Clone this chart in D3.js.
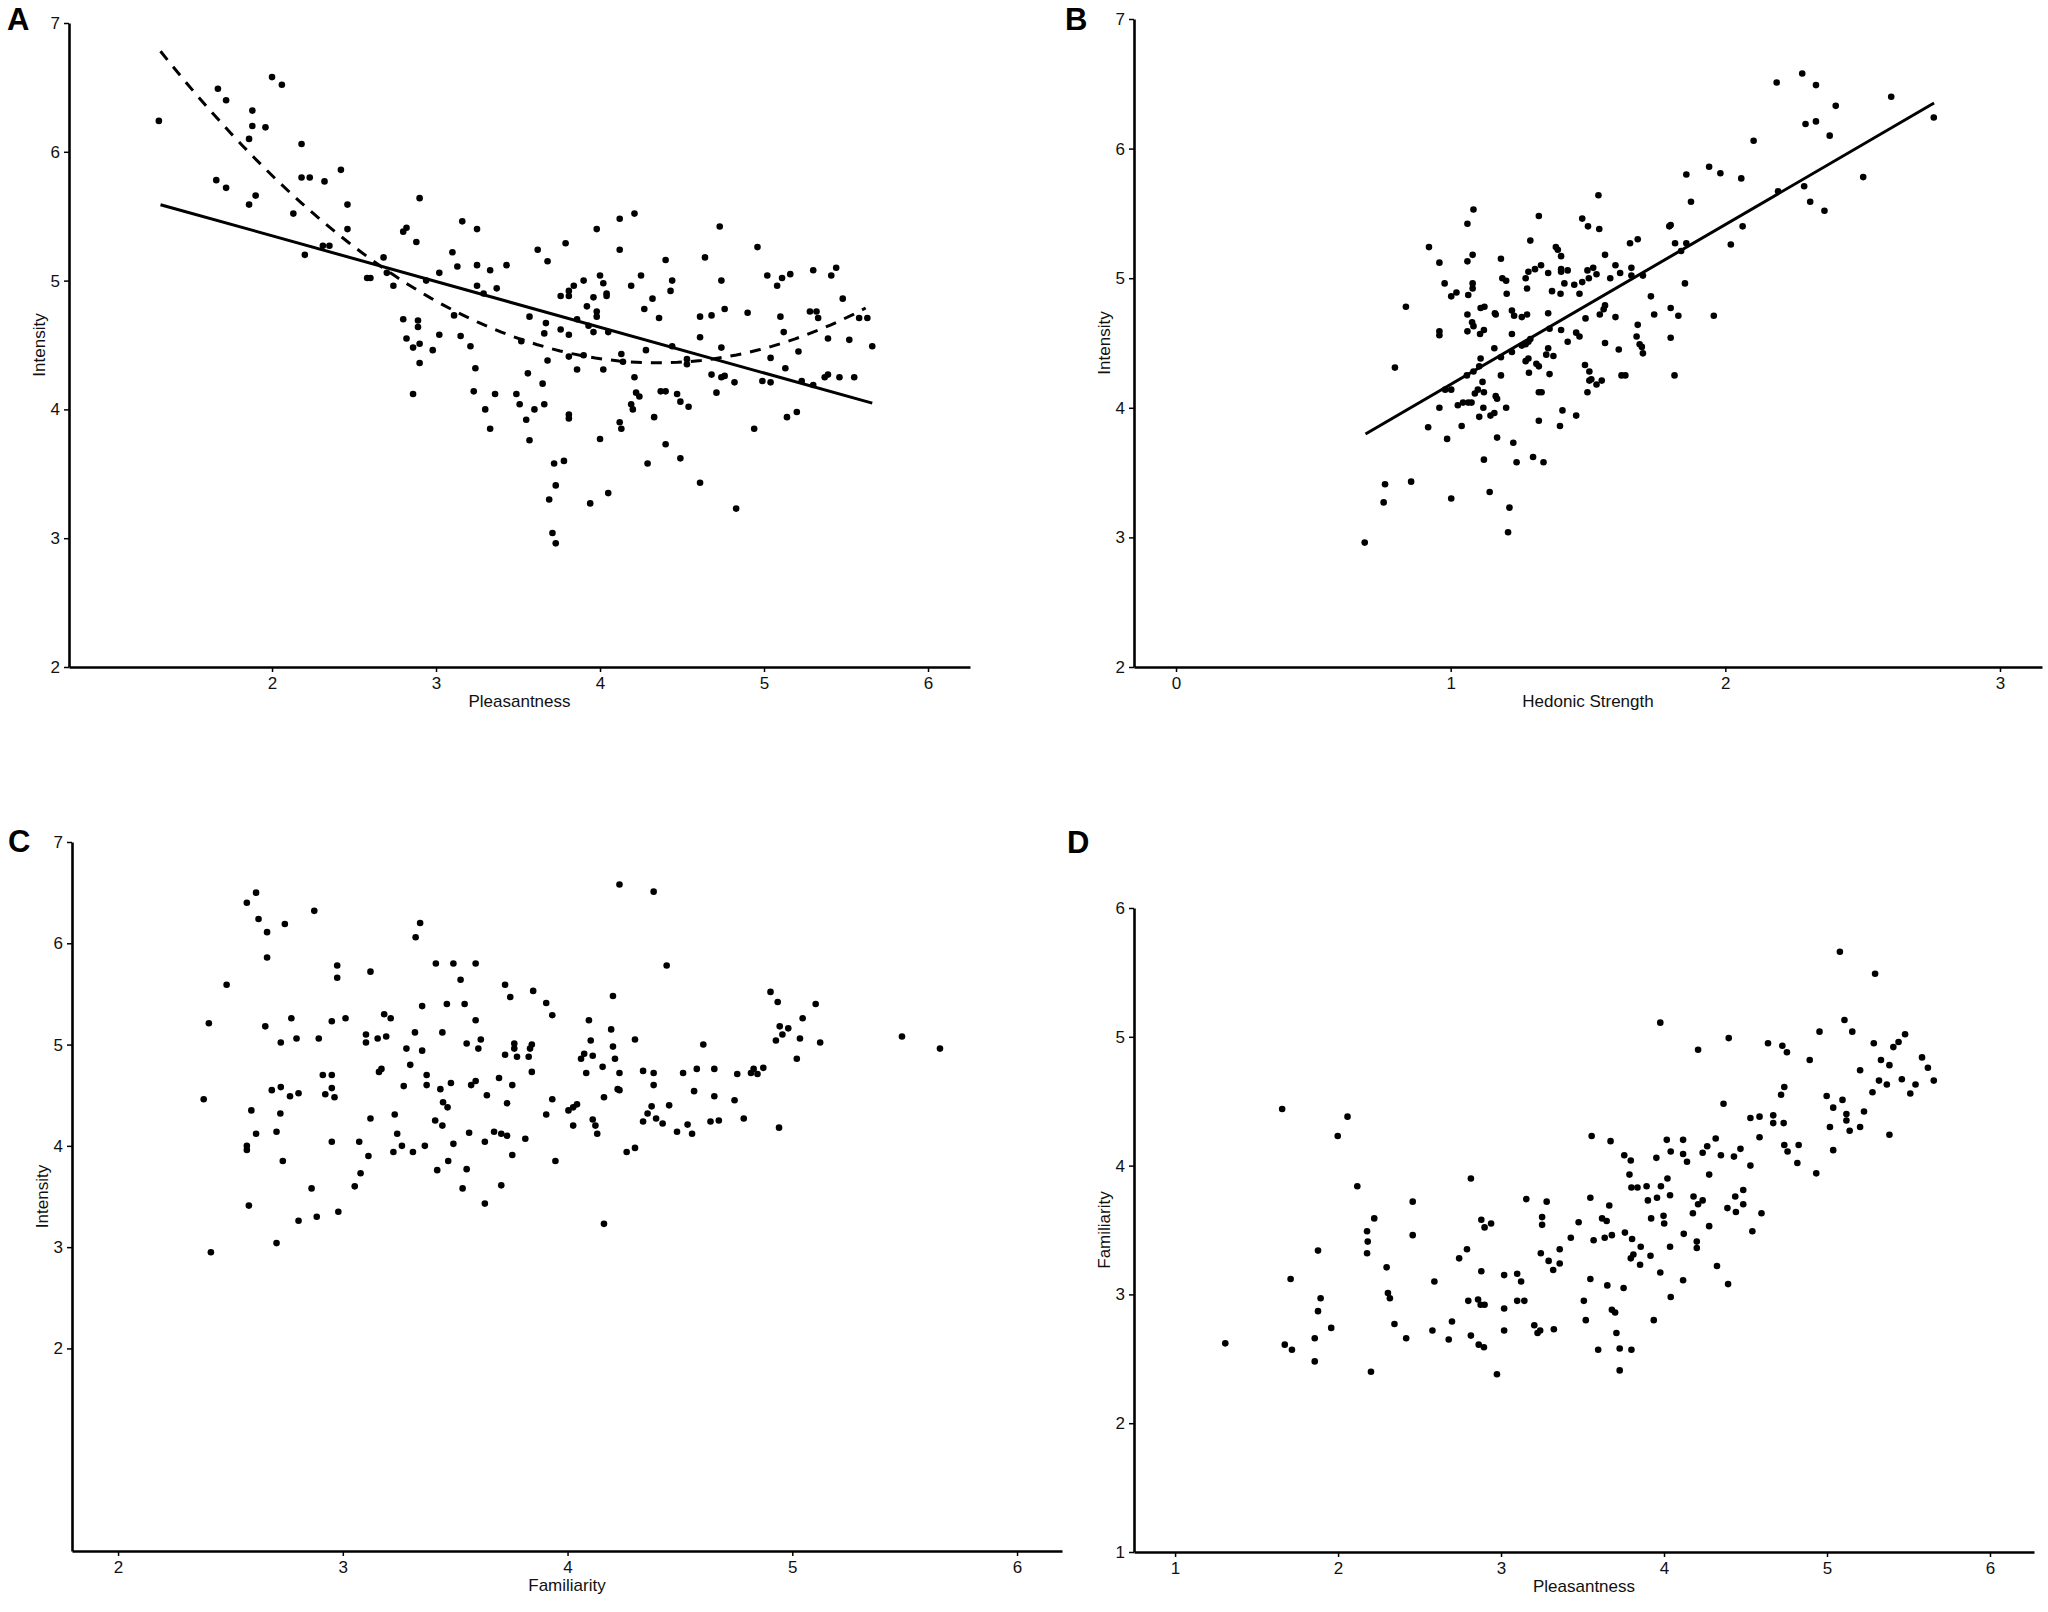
<!DOCTYPE html>
<html>
<head>
<meta charset="utf-8">
<title>Intensity, pleasantness and familiarity</title>
<script src="https://cdn.jsdelivr.net/npm/d3@7"></script>
<style>
	body { margin: 0; background: #fff; }
	svg { display: block; }
	.tick text { font-family: "Liberation Sans Narrow", "Liberation Sans", sans-serif; font-size: 17px; fill: #111; }
	.axis-title { font-family: "Liberation Sans Narrow", "Liberation Sans", sans-serif; font-size: 17px; fill: #111; }
	.panel-label { font-family: "Liberation Sans", Arial, sans-serif; font-weight: bold; font-size: 31px; }
</style>
</head>
<body>
<script>
// A: pleasantness vs intensity
var pointsA = [
	[1.31,6.24],[1.67,6.49],[1.72,6.40],[1.66,5.78],[1.72,5.72],[1.88,6.32],[1.88,6.20],[1.86,6.10],
	[1.96,6.19],[1.86,5.59],[1.90,5.66],[2.00,6.58],[2.06,6.52],[2.18,6.06],[2.18,5.80],[2.23,5.80],
	[2.32,5.77],[2.42,5.86],[2.13,5.52],[2.46,5.59],[2.46,5.40],[2.20,5.20],[2.31,5.27],[2.35,5.27],
	[2.58,5.02],[2.60,5.02],[2.68,5.18],[2.70,5.06],[2.74,4.96],[2.90,5.64],[2.80,5.38],[2.82,5.41],
	[2.88,5.30],[2.94,5.00],[3.02,5.06],[2.80,4.70],[2.89,4.69],[2.89,4.64],[2.82,4.55],[2.90,4.51],
	[2.86,4.48],[2.90,4.36],[2.86,4.12],[2.98,4.46],[3.02,4.58],[3.10,5.22],[3.13,5.11],[3.16,5.46],
	[3.25,5.40],[3.25,5.12],[3.25,4.96],[3.29,4.90],[3.33,5.08],[3.37,4.94],[3.43,5.12],[3.11,4.73],
	[3.15,4.57],[3.21,4.49],[3.24,4.32],[3.23,4.14],[3.30,4.00],[3.33,3.85],[3.36,4.12],[3.49,4.12],
	[3.51,4.04],[3.52,4.53],[3.57,4.72],[3.56,4.28],[3.55,3.92],[3.57,3.76],[3.62,5.24],[3.68,5.15],
	[3.67,4.67],[3.66,4.59],[3.65,4.20],[3.68,4.38],[3.66,4.04],[3.60,4.00],[3.72,3.58],[3.78,3.60],
	[3.73,3.41],[3.69,3.30],[3.71,3.04],[3.73,2.96],[3.79,5.29],[3.76,4.88],[3.81,4.88],[3.81,4.92],
	[3.84,4.96],[3.90,5.00],[3.76,4.62],[3.81,4.58],[3.81,4.41],[3.86,4.70],[3.86,4.31],[3.81,3.96],
	[3.81,3.93],[3.92,4.80],[3.96,4.87],[3.98,4.76],[3.98,4.72],[3.93,4.65],[3.96,4.60],[3.90,4.42],
	[3.98,5.40],[4.00,5.04],[4.02,4.98],[4.04,4.90],[4.04,4.88],[4.05,4.60],[4.02,4.31],[4.00,3.77],
	[3.94,3.27],[4.05,3.35],[4.12,5.48],[4.21,5.52],[4.12,5.24],[4.19,4.96],[4.25,5.04],[4.13,4.43],
	[4.14,4.37],[4.27,4.78],[4.32,4.86],[4.36,4.71],[4.28,4.46],[4.21,4.25],[4.22,4.13],[4.24,4.10],
	[4.19,4.04],[4.20,4.00],[4.12,3.90],[4.13,3.85],[4.33,3.94],[4.40,5.16],[4.44,5.00],[4.43,4.92],
	[4.44,4.49],[4.37,4.14],[4.40,4.14],[4.47,4.12],[4.49,4.06],[4.54,4.02],[4.53,4.39],[4.53,4.35],
	[4.40,3.73],[4.49,3.62],[4.29,3.58],[4.64,5.18],[4.73,5.42],[4.74,5.00],[4.61,4.72],[4.68,4.73],
	[4.76,4.78],[4.61,4.56],[4.74,4.48],[4.68,4.27],[4.74,4.25],[4.76,4.26],[4.71,4.13],[4.82,4.21],
	[4.61,3.43],[4.83,3.23],[4.90,4.75],[4.96,5.26],[5.02,5.04],[5.08,4.96],[5.11,5.02],[5.16,5.05],
	[5.10,4.72],[5.12,4.60],[5.04,4.40],[4.99,4.22],[5.04,4.21],[5.13,4.32],[5.21,4.45],[5.23,4.22],
	[4.94,3.85],[5.14,3.94],[5.20,3.98],[5.30,5.08],[5.44,5.10],[5.41,5.04],[5.28,4.76],[5.32,4.76],
	[5.33,4.71],[5.39,4.55],[5.48,4.86],[5.52,4.54],[5.58,4.71],[5.63,4.71],[5.66,4.49],[5.39,4.27],
	[5.37,4.25],[5.46,4.25],[5.55,4.25],[5.30,4.19]
];
var linearA = { intercept: 6.058, slope: -0.355, from: 1.32, to: 5.66 };
var quadraticA = { coef: [9.348, -2.293, 0.2636], from: 1.32, to: 5.62 };

// B: hedonic strength vs intensity
var pointsB = [
	[0.687,2.96],[0.756,3.27],[0.761,3.41],[0.797,4.31],[0.837,4.78],[0.856,3.43],[0.921,5.24],[0.959,5.12],
	[0.978,4.96],[1.002,4.86],[1.021,4.89],[0.959,4.59],[0.959,4.56],[0.918,3.85],[0.959,4.00],[0.987,3.76],
	[1.002,3.30],[0.980,4.14],[1.002,4.14],[1.026,4.02],[1.040,3.86],[1.045,4.04],[1.064,4.04],[1.076,4.04],
	[1.059,4.25],[1.083,4.28],[1.104,4.32],[1.109,4.38],[1.088,4.11],[1.099,4.14],[1.121,4.12],[1.116,4.20],
	[1.104,3.93],[1.145,3.94],[1.119,4.00],[1.159,3.96],[1.164,4.09],[1.169,4.07],[1.202,4.00],[1.169,3.77],
	[1.121,3.60],[1.142,3.35],[1.214,3.23],[1.209,3.04],[1.228,3.73],[1.240,3.58],[1.300,3.62],[1.338,3.58],
	[1.061,5.42],[1.083,5.53],[1.080,5.18],[1.061,5.13],[1.080,4.96],[1.080,4.92],[1.064,4.87],[1.061,4.72],
	[1.078,4.66],[1.083,4.63],[1.061,4.59],[1.121,4.60],[1.107,4.57],[1.109,4.77],[1.123,4.78],[1.161,4.73],
	[1.164,4.72],[1.159,4.46],[1.183,4.39],[1.183,5.15],[1.188,5.00],[1.202,4.98],[1.204,4.88],[1.223,4.75],
	[1.231,4.71],[1.223,4.57],[1.223,4.43],[1.183,4.25],[1.259,4.70],[1.278,4.72],[1.273,5.00],[1.283,5.05],
	[1.307,5.07],[1.329,5.10],[1.290,5.29],[1.321,5.48],[1.278,4.92],[1.259,4.48],[1.273,4.49],[1.283,4.51],
	[1.290,4.53],[1.273,4.36],[1.283,4.38],[1.285,4.27],[1.312,4.34],[1.321,4.32],[1.321,4.12],[1.331,4.12],
	[1.321,3.90],[1.355,5.04],[1.355,4.73],[1.360,4.61],[1.355,4.46],[1.348,4.41],[1.374,4.40],[1.360,4.26],
	[1.369,4.90],[1.383,5.24],[1.390,5.22],[1.402,5.17],[1.402,5.07],[1.402,5.05],[1.400,4.88],[1.402,4.60],
	[1.426,5.06],[1.414,4.96],[1.426,4.51],[1.407,3.98],[1.398,3.86],[1.457,3.94],[1.457,4.58],[1.469,4.55],
	[1.450,4.95],[1.469,4.88],[1.479,4.97],[1.479,5.46],[1.500,5.40],[1.541,5.38],[1.538,5.64],[1.498,5.06],
	[1.519,5.08],[1.531,5.03],[1.503,5.00],[1.562,5.18],[1.491,4.69],[1.562,4.79],[1.557,4.76],[1.543,4.72],
	[1.489,4.33],[1.505,4.28],[1.512,4.22],[1.505,4.21],[1.531,4.18],[1.550,4.21],[1.498,4.12],[1.562,4.50],
	[1.581,5.00],[1.600,5.10],[1.617,5.04],[1.600,4.70],[1.612,4.45],[1.622,4.25],[1.636,4.25],[1.653,5.27],
	[1.681,5.30],[1.658,5.08],[1.658,5.02],[1.700,5.02],[1.681,4.64],[1.677,4.55],[1.688,4.49],[1.696,4.47],
	[1.700,4.42],[1.729,4.86],[1.741,4.72],[1.796,5.40],[1.801,5.41],[1.817,5.27],[1.839,5.21],[1.858,5.27],
	[1.858,5.80],[1.875,5.59],[1.853,4.96],[1.801,4.77],[1.801,4.54],[1.829,4.71],[1.815,4.25],[1.941,5.86],
	[1.982,5.81],[1.958,4.71],[2.020,5.26],[2.058,5.77],[2.063,5.40],[2.103,6.06],[2.187,6.51],[2.192,5.67],
	[2.280,6.58],[2.330,6.49],[2.292,6.19],[2.330,6.21],[2.380,6.10],[2.402,6.33],[2.287,5.71],[2.309,5.59],
	[2.361,5.52],[2.502,5.78],[2.604,6.40],[2.759,6.24]
];
var linearB = { intercept: 2.946, slope: 1.234, from: 0.69, to: 2.76 };

// C: familiarity vs intensity
var pointsC = [
	[2.381,4.46],[2.404,5.21],[2.413,2.95],[2.483,5.59],[2.573,6.40],[2.614,6.50],[2.625,6.24],[2.663,6.11],
	[2.663,5.86],[2.742,6.19],[2.655,5.18],[2.771,5.26],[2.724,5.02],[2.794,5.06],[2.893,5.06],[2.873,6.32],
	[2.593,4.35],[2.614,4.12],[2.573,4.00],[2.573,3.96],[2.684,4.55],[2.724,4.58],[2.765,4.49],[2.803,4.52],
	[2.722,4.32],[2.705,4.14],[2.733,3.85],[2.582,3.41],[2.705,3.04],[2.803,3.26],[2.861,3.58],[2.884,3.30],
	[2.980,3.35],[2.911,4.70],[2.951,4.70],[2.922,4.51],[2.951,4.57],[2.963,4.48],[2.951,4.04],[2.951,5.23],
	[2.975,5.78],[2.975,5.66],[3.012,5.26],[3.123,5.72],[3.103,5.10],[3.103,5.02],[3.155,5.06],[3.193,5.08],
	[3.184,5.30],[3.213,5.26],[3.161,4.73],[3.172,4.76],[3.123,4.27],[3.073,4.04],[3.114,3.90],[3.079,3.73],
	[3.053,3.60],[3.231,4.31],[3.242,4.12],[3.225,3.94],[3.263,4.00],[3.283,4.96],[3.300,4.80],[3.271,4.59],
	[3.321,5.12],[3.324,6.06],[3.344,6.20],[3.353,4.94],[3.353,5.38],[3.373,4.70],[3.373,4.60],[3.365,4.00],
	[3.312,3.94],[3.414,5.80],[3.443,5.12],[3.463,5.40],[3.411,4.25],[3.443,4.20],[3.434,4.56],[3.446,4.43],
	[3.466,4.38],[3.481,4.62],[3.420,3.76],[3.469,3.85],[3.492,4.02],[3.492,5.80],[3.524,5.64],[3.542,5.40],
	[3.551,5.01],[3.562,4.13],[3.551,3.77],[3.533,3.58],[3.591,5.80],[3.591,5.24],[3.614,5.05],[3.603,4.96],
	[3.571,4.60],[3.591,4.64],[3.641,4.50],[3.632,4.04],[3.632,3.43],[3.722,5.59],[3.745,5.47],[3.673,4.14],
	[3.705,4.12],[3.731,4.10],[3.695,4.67],[3.722,4.90],[3.731,4.42],[3.754,4.60],[3.754,3.91],[3.705,3.61],
	[3.763,5.01],[3.763,4.96],[3.775,4.88],[3.827,4.88],[3.833,4.96],[3.841,5.00],[3.847,5.53],[3.841,4.73],
	[3.812,4.07],[3.905,5.41],[3.932,5.29],[3.932,4.46],[3.905,4.31],[3.946,3.85],[4.004,4.35],[4.025,4.38],
	[4.042,4.41],[4.025,4.20],[4.060,4.86],[4.074,4.91],[4.083,4.72],[4.095,5.24],[4.103,5.04],[4.112,4.89],
	[4.112,4.26],[4.124,4.20],[4.132,4.12],[4.156,4.78],[4.162,4.48],[4.162,3.23],[4.194,5.15],[4.202,5.48],
	[4.202,4.98],[4.211,4.86],[4.223,4.56],[4.231,4.55],[4.231,4.72],[4.231,6.58],[4.263,3.94],[4.300,5.05],
	[4.300,3.98],[4.336,4.74],[4.336,4.24],[4.356,4.32],[4.374,4.39],[4.383,6.51],[4.383,4.72],[4.383,4.60],
	[4.394,4.27],[4.423,4.22],[4.441,5.78],[4.452,4.40],[4.487,4.14],[4.514,4.72],[4.534,4.21],[4.554,4.12],
	[4.563,4.54],[4.575,4.76],[4.604,5.00],[4.636,4.24],[4.653,4.76],[4.653,4.49],[4.673,4.25],[4.743,4.45],
	[4.755,4.71],[4.784,4.27],[4.816,4.72],[4.828,4.76],[4.845,4.71],[4.871,4.77],[4.903,5.52],[4.935,5.42],
	[4.944,5.18],[4.927,5.04],[4.956,5.10],[4.982,5.16],[5.020,4.86],[5.034,5.06],[5.046,5.26],[5.104,5.40],
	[5.124,5.02],[4.941,4.18],[5.488,5.08],[5.657,4.96]
];

// D: pleasantness vs familiarity
var pointsD = [
	[1.308,2.62],[1.657,4.44],[1.673,2.61],[1.717,2.57],[1.709,3.12],[1.857,2.66],[1.857,2.48],[1.877,3.34],
	[1.877,2.87],[1.893,2.97],[1.958,2.74],[1.998,4.23],[2.058,4.38],[2.118,3.84],[2.178,3.49],[2.182,3.41],
	[2.178,3.32],[2.222,3.59],[2.202,2.40],[2.298,3.21],[2.306,3.01],[2.318,2.97],[2.346,2.77],[2.418,2.66],
	[2.458,3.72],[2.458,3.46],[2.579,2.72],[2.591,3.10],[2.679,2.65],[2.699,2.79],[2.743,3.28],[2.791,3.35],
	[2.799,2.95],[2.815,3.90],[2.815,2.68],[2.859,2.96],[2.863,2.61],[2.879,3.18],[2.879,3.58],[2.899,3.52],
	[2.939,3.55],[2.875,2.92],[2.899,2.92],[2.895,2.59],[2.975,2.38],[3.019,3.15],[3.019,2.89],[3.019,2.72],
	[3.099,3.16],[3.123,3.10],[3.099,2.95],[3.143,2.95],[3.204,2.76],[3.224,2.70],[3.240,2.72],[3.324,2.73],
	[3.155,3.74],[3.280,3.72],[3.252,3.60],[3.252,3.54],[3.244,3.32],[3.292,3.26],[3.320,3.19],[3.360,3.35],
	[3.360,3.24],[3.428,3.44],[3.476,3.56],[3.556,4.23],[3.548,3.75],[3.568,3.42],[3.548,3.12],[3.508,2.95],
	[3.520,2.80],[3.596,2.57],[3.672,4.19],[3.664,3.69],[3.620,3.59],[3.648,3.57],[3.636,3.44],[3.680,3.46],
	[3.652,3.07],[3.680,2.88],[3.700,2.86],[3.708,2.70],[3.728,2.58],[3.800,2.57],[3.728,2.41],[3.756,4.08],
	[3.796,4.04],[3.788,3.93],[3.800,3.83],[3.837,3.83],[3.760,3.48],[3.804,3.43],[3.857,3.37],[3.812,3.31],
	[3.796,3.28],[3.853,3.23],[3.752,3.05],[3.893,3.84],[3.901,3.73],[3.917,3.30],[3.921,3.59],[3.957,3.75],
	[3.953,4.06],[3.981,3.84],[3.997,3.61],[4.001,3.55],[3.977,3.17],[3.937,2.80],[3.977,5.11],[4.017,4.20],
	[4.021,3.90],[4.041,4.11],[4.037,3.77],[4.037,3.37],[4.041,2.98],[4.117,4.20],[4.117,4.09],[4.141,4.03],
	[4.121,3.47],[4.117,3.11],[4.181,3.76],[4.177,3.63],[4.209,3.70],[4.237,3.73],[4.201,3.41],[4.201,3.36],
	[4.209,4.90],[4.237,4.10],[4.265,4.15],[4.277,3.93],[4.277,3.53],[4.317,4.21],[4.325,3.22],[4.349,4.08],
	[4.365,4.48],[4.397,4.99],[4.389,3.67],[4.393,3.08],[4.429,4.07],[4.437,3.76],[4.441,3.64],[4.469,4.13],
	[4.486,3.81],[4.486,3.70],[4.530,4.37],[4.530,4.00],[4.542,3.49],[4.586,4.38],[4.586,4.22],[4.598,3.63],
	[4.638,4.95],[4.670,4.39],[4.670,4.33],[4.718,4.55],[4.738,4.61],[4.734,4.33],[4.738,4.16],[4.758,4.11],
	[4.726,4.93],[4.754,4.88],[4.826,4.16],[4.818,4.02],[4.894,4.82],[4.934,3.94],[4.954,5.04],[4.998,4.54],
	[5.018,4.30],[5.038,4.45],[5.038,4.12],[5.095,4.51],[5.119,4.40],[5.119,4.35],[5.139,4.27],[5.079,5.66],
	[5.107,5.13],[5.155,5.04],[5.203,4.74],[5.203,4.30],[5.227,4.42],[5.279,4.57],[5.295,5.49],[5.287,4.95],
	[5.319,4.66],[5.331,4.82],[5.367,4.63],[5.383,4.78],[5.383,4.24],[5.407,4.92],[5.439,4.96],[5.459,4.67],
	[5.479,5.02],[5.511,4.56],[5.543,4.63],[5.583,4.84],[5.619,4.76],[5.655,4.66]
];

// tick labels
var ticksPleasantness = [2, 3, 4, 5, 6];
var ticksHedonic = [0, 1, 2, 3];
var ticksFamiliarityX = [2, 3, 4, 5, 6];
var ticksIntensity = [2, 3, 4, 5, 6, 7];
var ticksFamiliarityY = [1, 2, 3, 4, 5, 6];
var ticksPleasantnessD = [1, 2, 3, 4, 5, 6];

(function () {
	"use strict";

	var width = 2048,
		height = 1612,
		dotRadius = 3.3;

	var svg = d3.select("body").append("svg")
		.attr("width", width)
		.attr("height", height);

	function panel(opts) {
		var x = d3.scaleLinear().domain(opts.xDomain).range([opts.left, opts.right]),
			y = d3.scaleLinear().domain(opts.yDomain).range([opts.bottom, opts.top]);

		var g = svg.append("g").attr("class", "panel");

		var xAxis = d3.axisBottom(x)
			.tickValues(opts.xTicks)
			.tickFormat(d3.format("d"))
			.tickSizeInner(5)
			.tickSizeOuter(0)
			.tickPadding(5);
		var yAxis = d3.axisLeft(y)
			.tickValues(opts.yTicks)
			.tickFormat(d3.format("d"))
			.tickSizeInner(5)
			.tickSizeOuter(0)
			.tickPadding(4);

		var gx = g.append("g")
			.attr("transform", "translate(0," + opts.bottom + ")")
			.call(xAxis);
		var gy = g.append("g")
			.attr("transform", "translate(" + opts.left + ",0)")
			.call(yAxis);

		[gx, gy].forEach(function (ax) {
			ax.select(".domain").attr("stroke", "#000").attr("stroke-width", 2.6);
			ax.selectAll(".tick line").attr("stroke", "#000").attr("stroke-width", 1.5);
			ax.selectAll(".tick text").attr("font-size", null).attr("font-family", null);
		});

		// axis titles
		g.append("text")
			.attr("class", "axis-title")
			.attr("x", (opts.left + opts.right) / 2)
			.attr("y", opts.bottom + 40)
			.attr("text-anchor", "middle")
			.text(opts.xTitle);
		g.append("text")
			.attr("class", "axis-title")
			.attr("transform", "translate(" + (opts.left - 24) + "," + ((opts.top + opts.bottom) / 2) + ") rotate(-90)")
			.attr("text-anchor", "middle")
			.text(opts.yTitle);

		g.append("text")
			.attr("class", "panel-label")
			.attr("x", opts.labelX)
			.attr("y", opts.labelY)
			.text(opts.label);

		// fitted lines
		if (opts.linear) {
			var f = opts.linear;
			g.append("line")
				.attr("x1", x(f.from)).attr("y1", y(f.intercept + f.slope * f.from))
				.attr("x2", x(f.to)).attr("y2", y(f.intercept + f.slope * f.to))
				.attr("stroke", "#000")
				.attr("stroke-width", 3);
		}
		if (opts.quadratic) {
			var q = opts.quadratic;
			var xs = d3.range(0, 61).map(function (i) { return q.from + (q.to - q.from) * i / 60; });
			g.append("path")
				.datum(xs)
				.attr("fill", "none")
				.attr("stroke", "#000")
				.attr("stroke-width", 3)
				.attr("stroke-dasharray", "11,9")
				.attr("d", d3.line()
					.x(function (d) { return x(d); })
					.y(function (d) { return y(q.coef[0] + q.coef[1] * d + q.coef[2] * d * d); }));
		}

		g.append("g").selectAll("circle")
			.data(opts.points)
			.enter().append("circle")
			.attr("cx", function (d) { return x(d[0]); })
			.attr("cy", function (d) { return y(d[1]); })
			.attr("r", dotRadius)
			.attr("fill", "#000");
	}

	panel({
		label: "A", labelX: 7, labelY: 30,
		points: pointsA, linear: linearA, quadratic: quadraticA,
		left: 69, right: 970, top: 23, bottom: 667,
		xDomain: [0.762, 6.256], yDomain: [2, 7],
		xTicks: ticksPleasantness, yTicks: ticksIntensity,
		xTitle: "Pleasantness", yTitle: "Intensity"
	});

	panel({
		label: "B", labelX: 1065, labelY: 30,
		points: pointsB, linear: linearB,
		left: 1134, right: 2042, top: 19, bottom: 667,
		xDomain: [-0.153, 3.153], yDomain: [2, 7],
		xTicks: ticksHedonic, yTicks: ticksIntensity,
		xTitle: "Hedonic Strength", yTitle: "Intensity"
	});

	panel({
		label: "C", labelX: 8, labelY: 852,
		points: pointsC,
		left: 72, right: 1062, top: 842, bottom: 1551,
		xDomain: [1.795, 6.2], yDomain: [0, 7],
		xTicks: ticksFamiliarityX, yTicks: ticksIntensity,
		xTitle: "Familiarity", yTitle: "Intensity"
	});

	panel({
		label: "D", labelX: 1067, labelY: 853,
		points: pointsD,
		left: 1134, right: 2034, top: 908, bottom: 1552,
		xDomain: [0.748, 6.27], yDomain: [1, 6],
		xTicks: ticksPleasantnessD, yTicks: ticksFamiliarityY,
		xTitle: "Pleasantness", yTitle: "Familiarity"
	});
}());
</script>
</body>
</html>
